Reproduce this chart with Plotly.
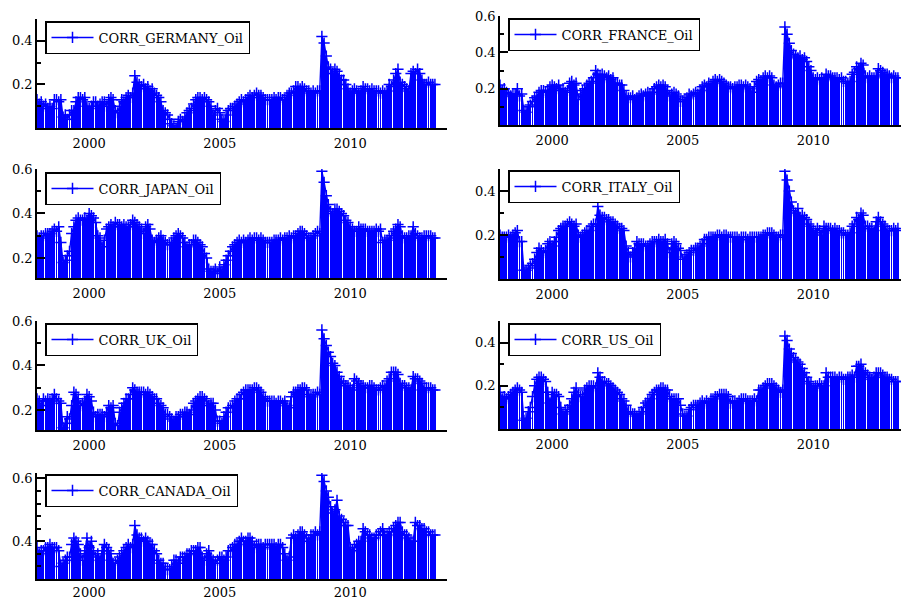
import pandas as pd
import plotly.graph_objects as go

# Monthly observations, Jan 1998 - Apr 2013
months = pd.date_range("1998-01-01", periods=184, freq="MS")

CORR_GERMANY_OIL = [
    0.13, 0.11, 0.12, 0.10, 0.11, 0.09, 0.10, 0.09, 0.13, 0.13, 0.12, 0.13,
    0.05, 0.06, 0.04, 0.06, 0.08, 0.08, 0.12, 0.14, 0.14, 0.13, 0.14, 0.10,
    0.09, 0.10, 0.12, 0.12, 0.10, 0.11, 0.12, 0.12, 0.10, 0.13, 0.14, 0.13,
    0.08, 0.07, 0.10, 0.13, 0.12, 0.14, 0.15, 0.14, 0.16, 0.24, 0.21, 0.20,
    0.19, 0.20, 0.18, 0.19, 0.17, 0.18, 0.16, 0.15, 0.14, 0.12, 0.08, 0.07,
    0.06, 0.04, 0.02, 0.01, 0.00, 0.03, 0.04, 0.03, 0.05, 0.07, 0.08, 0.09,
    0.11, 0.13, 0.14, 0.14, 0.13, 0.14, 0.13, 0.12, 0.10, 0.06, 0.08, 0.09,
    0.07, 0.04, 0.03, 0.06, 0.08, 0.09, 0.09, 0.10, 0.11, 0.12, 0.13, 0.12,
    0.13, 0.14, 0.15, 0.14, 0.15, 0.16, 0.15, 0.15, 0.14, 0.13, 0.13, 0.13,
    0.13, 0.14, 0.13, 0.14, 0.14, 0.13, 0.13, 0.15, 0.16, 0.16, 0.17, 0.19,
    0.19, 0.18, 0.19, 0.18, 0.17, 0.17, 0.16, 0.17, 0.16, 0.17, 0.17, 0.42,
    0.39, 0.33, 0.28, 0.27, 0.25, 0.27, 0.26, 0.24, 0.22, 0.22, 0.20, 0.18,
    0.16, 0.17, 0.18, 0.17, 0.16, 0.17, 0.19, 0.18, 0.18, 0.17, 0.18, 0.17,
    0.17, 0.17, 0.16, 0.17, 0.16, 0.17, 0.20, 0.19, 0.22, 0.25, 0.27, 0.21,
    0.20, 0.19, 0.18, 0.17, 0.25, 0.26, 0.25, 0.27, 0.25, 0.22, 0.20, 0.20,
    0.21, 0.20, 0.20, 0.20,
]

CORR_FRANCE_OIL = [
    0.22, 0.19, 0.20, 0.18, 0.17, 0.16, 0.17, 0.17, 0.20, 0.16, 0.17, 0.08,
    0.07, 0.10, 0.11, 0.13, 0.15, 0.16, 0.18, 0.19, 0.19, 0.18, 0.19, 0.21,
    0.22, 0.21, 0.20, 0.22, 0.19, 0.20, 0.18, 0.19, 0.23, 0.24, 0.22, 0.23,
    0.14, 0.17, 0.19, 0.20, 0.22, 0.23, 0.24, 0.26, 0.30, 0.28, 0.27, 0.28,
    0.27, 0.26, 0.27, 0.25, 0.26, 0.23, 0.23, 0.22, 0.22, 0.19, 0.16, 0.15,
    0.15, 0.16, 0.14, 0.15, 0.16, 0.17, 0.16, 0.17, 0.18, 0.17, 0.18, 0.20,
    0.21, 0.22, 0.21, 0.22, 0.21, 0.19, 0.16, 0.17, 0.18, 0.17, 0.16, 0.13,
    0.13, 0.14, 0.15, 0.17, 0.16, 0.17, 0.18, 0.17, 0.19, 0.21, 0.22, 0.21,
    0.23, 0.22, 0.24, 0.25, 0.24, 0.25, 0.24, 0.23, 0.22, 0.21, 0.21, 0.20,
    0.21, 0.21, 0.22, 0.22, 0.21, 0.22, 0.21, 0.20, 0.18, 0.21, 0.24, 0.25,
    0.24, 0.26, 0.27, 0.26, 0.27, 0.26, 0.22, 0.21, 0.22, 0.23, 0.23, 0.54,
    0.50, 0.45, 0.41, 0.39, 0.38, 0.37, 0.38, 0.36, 0.37, 0.35, 0.32, 0.30,
    0.26, 0.25, 0.26, 0.25, 0.26, 0.25, 0.28, 0.27, 0.27, 0.26, 0.26, 0.26,
    0.25, 0.26, 0.24, 0.24, 0.23, 0.24, 0.28, 0.29, 0.32, 0.31, 0.34, 0.33,
    0.27, 0.26, 0.27, 0.26, 0.26, 0.27, 0.31, 0.30, 0.29, 0.28, 0.28, 0.27,
    0.26, 0.27, 0.26, 0.26,
]

CORR_JAPAN_OIL = [
    0.30, 0.29, 0.30, 0.30, 0.31, 0.31, 0.31, 0.32, 0.33, 0.32, 0.34, 0.27,
    0.18, 0.19, 0.21, 0.23, 0.31, 0.34, 0.37, 0.38, 0.37, 0.37, 0.38, 0.37,
    0.40, 0.39, 0.38, 0.36, 0.30, 0.29, 0.25, 0.28, 0.33, 0.34, 0.35, 0.34,
    0.36, 0.35, 0.35, 0.34, 0.35, 0.34, 0.34, 0.35, 0.37, 0.36, 0.35, 0.34,
    0.33, 0.31, 0.34, 0.35, 0.33, 0.28, 0.27, 0.28, 0.29, 0.30, 0.28, 0.27,
    0.26, 0.26, 0.27, 0.29, 0.30, 0.31, 0.30, 0.29, 0.27, 0.25, 0.26, 0.26,
    0.28, 0.28, 0.27, 0.26, 0.25, 0.22, 0.20, 0.15, 0.14, 0.14, 0.15, 0.13,
    0.16, 0.14, 0.17, 0.19, 0.21, 0.23, 0.25, 0.26, 0.27, 0.28, 0.27, 0.28,
    0.27, 0.28, 0.29, 0.28, 0.29, 0.29, 0.28, 0.29, 0.28, 0.27, 0.27, 0.27,
    0.27, 0.28, 0.28, 0.28, 0.29, 0.28, 0.29, 0.29, 0.30, 0.29, 0.30, 0.30,
    0.31, 0.32, 0.32, 0.31, 0.30, 0.29, 0.29, 0.30, 0.31, 0.32, 0.31, 0.59,
    0.54, 0.48, 0.44, 0.41, 0.40, 0.42, 0.42, 0.41, 0.40, 0.39, 0.37, 0.36,
    0.34, 0.33, 0.32, 0.32, 0.34, 0.33, 0.33, 0.33, 0.32, 0.32, 0.32, 0.32,
    0.33, 0.32, 0.33, 0.27, 0.28, 0.28, 0.29, 0.30, 0.32, 0.33, 0.35, 0.34,
    0.30, 0.29, 0.29, 0.30, 0.30, 0.34, 0.31, 0.30, 0.29, 0.29, 0.30, 0.30,
    0.30, 0.30, 0.29, 0.29,
]

CORR_ITALY_OIL = [
    0.20, 0.19, 0.19, 0.19, 0.20, 0.19, 0.20, 0.21, 0.22, 0.17, 0.17, 0.04,
    0.04, 0.05, 0.06, 0.07, 0.09, 0.12, 0.14, 0.13, 0.12, 0.13, 0.16, 0.17,
    0.15, 0.17, 0.19, 0.22, 0.23, 0.24, 0.24, 0.25, 0.26, 0.25, 0.24, 0.25,
    0.20, 0.19, 0.20, 0.21, 0.22, 0.22, 0.24, 0.25, 0.25, 0.33, 0.29, 0.28,
    0.28, 0.27, 0.27, 0.26, 0.26, 0.25, 0.24, 0.23, 0.23, 0.22, 0.15, 0.12,
    0.10, 0.12, 0.14, 0.17, 0.16, 0.16, 0.16, 0.15, 0.15, 0.16, 0.17, 0.17,
    0.17, 0.18, 0.17, 0.17, 0.18, 0.16, 0.12, 0.16, 0.17, 0.16, 0.14, 0.13,
    0.09, 0.10, 0.11, 0.12, 0.13, 0.13, 0.14, 0.14, 0.15, 0.16, 0.18, 0.18,
    0.19, 0.19, 0.19, 0.19, 0.20, 0.20, 0.19, 0.20, 0.20, 0.19, 0.19, 0.19,
    0.19, 0.19, 0.18, 0.19, 0.19, 0.19, 0.18, 0.19, 0.19, 0.19, 0.19, 0.19,
    0.19, 0.20, 0.20, 0.21, 0.21, 0.21, 0.20, 0.19, 0.19, 0.20, 0.20, 0.49,
    0.45, 0.40, 0.35, 0.31, 0.30, 0.32, 0.28, 0.29, 0.28, 0.27, 0.25, 0.24,
    0.22, 0.21, 0.23, 0.22, 0.20, 0.24, 0.23, 0.23, 0.23, 0.22, 0.23, 0.22,
    0.22, 0.21, 0.21, 0.20, 0.20, 0.21, 0.24, 0.25, 0.28, 0.27, 0.30, 0.29,
    0.24, 0.24, 0.23, 0.23, 0.22, 0.26, 0.28, 0.26, 0.25, 0.24, 0.22, 0.22,
    0.22, 0.23, 0.22, 0.23,
]

CORR_UK_OIL = [
    0.25, 0.24, 0.22, 0.25, 0.24, 0.25, 0.24, 0.25, 0.27, 0.25, 0.24, 0.23,
    0.12, 0.14, 0.17, 0.16, 0.22, 0.28, 0.27, 0.25, 0.22, 0.23, 0.24, 0.27,
    0.26, 0.24, 0.19, 0.17, 0.18, 0.18, 0.18, 0.17, 0.19, 0.22, 0.21, 0.22,
    0.14, 0.13, 0.19, 0.21, 0.23, 0.25, 0.25, 0.27, 0.30, 0.29, 0.28, 0.28,
    0.28, 0.28, 0.27, 0.28, 0.27, 0.26, 0.25, 0.25, 0.23, 0.22, 0.21, 0.18,
    0.18, 0.17, 0.16, 0.15, 0.17, 0.17, 0.18, 0.18, 0.19, 0.19, 0.18, 0.20,
    0.23, 0.24, 0.25, 0.26, 0.26, 0.25, 0.24, 0.22, 0.23, 0.23, 0.20, 0.15,
    0.15, 0.14, 0.17, 0.19, 0.21, 0.21, 0.22, 0.24, 0.25, 0.25, 0.27, 0.28,
    0.29, 0.29, 0.29, 0.29, 0.30, 0.30, 0.29, 0.28, 0.26, 0.25, 0.24, 0.24,
    0.24, 0.24, 0.23, 0.24, 0.24, 0.23, 0.24, 0.22, 0.21, 0.26, 0.28, 0.28,
    0.29, 0.29, 0.30, 0.30, 0.29, 0.27, 0.26, 0.27, 0.27, 0.28, 0.27, 0.56,
    0.52, 0.49, 0.46, 0.44, 0.41, 0.40, 0.37, 0.35, 0.33, 0.32, 0.31, 0.31,
    0.30, 0.29, 0.34, 0.33, 0.32, 0.31, 0.31, 0.30, 0.30, 0.31, 0.31, 0.30,
    0.29, 0.29, 0.30, 0.31, 0.30, 0.33, 0.34, 0.37, 0.37, 0.37, 0.36, 0.32,
    0.31, 0.31, 0.30, 0.30, 0.29, 0.35, 0.34, 0.34, 0.33, 0.32, 0.30, 0.30,
    0.30, 0.30, 0.29, 0.29,
]

CORR_US_OIL = [
    0.17, 0.14, 0.15, 0.14, 0.15, 0.16, 0.17, 0.18, 0.19, 0.18, 0.17, 0.04,
    0.05, 0.08, 0.10, 0.15, 0.20, 0.23, 0.24, 0.24, 0.23, 0.22, 0.17, 0.12,
    0.17, 0.16, 0.16, 0.15, 0.10, 0.07, 0.08, 0.09, 0.11, 0.14, 0.17, 0.19,
    0.16, 0.15, 0.15, 0.18, 0.19, 0.20, 0.20, 0.20, 0.19, 0.26, 0.24, 0.22,
    0.22, 0.21, 0.21, 0.20, 0.19, 0.18, 0.17, 0.16, 0.14, 0.13, 0.11, 0.08,
    0.08, 0.07, 0.07, 0.06, 0.07, 0.08, 0.10, 0.12, 0.13, 0.14, 0.16, 0.17,
    0.18, 0.18, 0.19, 0.19, 0.18, 0.18, 0.15, 0.14, 0.14, 0.14, 0.14, 0.11,
    0.07, 0.06, 0.06, 0.09, 0.10, 0.11, 0.11, 0.11, 0.12, 0.13, 0.12, 0.13,
    0.12, 0.14, 0.14, 0.15, 0.15, 0.16, 0.16, 0.16, 0.16, 0.15, 0.12, 0.13,
    0.13, 0.12, 0.13, 0.14, 0.14, 0.14, 0.13, 0.13, 0.13, 0.14, 0.13, 0.18,
    0.18, 0.19, 0.20, 0.21, 0.21, 0.21, 0.20, 0.19, 0.18, 0.17, 0.18, 0.43,
    0.41, 0.37, 0.35, 0.33, 0.32, 0.31, 0.30, 0.28, 0.26, 0.24, 0.22, 0.21,
    0.19, 0.20, 0.20, 0.21, 0.20, 0.20, 0.26, 0.24, 0.24, 0.24, 0.24, 0.23,
    0.24, 0.24, 0.23, 0.23, 0.24, 0.24, 0.25, 0.24, 0.29, 0.29, 0.30, 0.27,
    0.26, 0.25, 0.24, 0.23, 0.24, 0.26, 0.26, 0.26, 0.25, 0.24, 0.24, 0.23,
    0.23, 0.22, 0.22, 0.22,
]

CORR_CANADA_OIL = [
    0.38, 0.36, 0.37, 0.37, 0.38, 0.38, 0.39, 0.38, 0.38, 0.38, 0.37, 0.32,
    0.33, 0.34, 0.35, 0.35, 0.39, 0.41, 0.40, 0.39, 0.36, 0.34, 0.37, 0.41,
    0.38, 0.40, 0.37, 0.35, 0.36, 0.34, 0.37, 0.39, 0.38, 0.37, 0.36, 0.33,
    0.33, 0.34, 0.35, 0.36, 0.37, 0.38, 0.39, 0.38, 0.39, 0.45, 0.42, 0.41,
    0.41, 0.40, 0.41, 0.40, 0.39, 0.39, 0.37, 0.36, 0.34, 0.33, 0.33, 0.31,
    0.31, 0.31, 0.32, 0.34, 0.34, 0.33, 0.35, 0.35, 0.35, 0.36, 0.36, 0.37,
    0.37, 0.37, 0.38, 0.38, 0.35, 0.34, 0.36, 0.37, 0.35, 0.34, 0.33, 0.34,
    0.35, 0.35, 0.34, 0.35, 0.37, 0.37, 0.38, 0.39, 0.39, 0.40, 0.41, 0.40,
    0.40, 0.41, 0.41, 0.40, 0.38, 0.39, 0.39, 0.39, 0.38, 0.39, 0.39, 0.39,
    0.39, 0.39, 0.38, 0.39, 0.39, 0.38, 0.36, 0.34, 0.35, 0.41, 0.42, 0.41,
    0.42, 0.43, 0.43, 0.42, 0.41, 0.40, 0.42, 0.42, 0.43, 0.42, 0.43, 0.61,
    0.59, 0.56, 0.54, 0.51, 0.49, 0.50, 0.53, 0.48, 0.47, 0.46, 0.45, 0.45,
    0.38, 0.37, 0.38, 0.39, 0.40, 0.40, 0.44, 0.43, 0.42, 0.42, 0.41, 0.41,
    0.42, 0.42, 0.43, 0.44, 0.42, 0.42, 0.43, 0.43, 0.44, 0.45, 0.46, 0.46,
    0.43, 0.42, 0.42, 0.41, 0.40, 0.40, 0.46, 0.45, 0.45, 0.44, 0.44, 0.43,
    0.43, 0.42, 0.42, 0.42,
]

YEAR_TICKS = ["2000-01-01", "2005-01-01", "2010-01-01"]
YEAR_LABELS = ["2000", "2005", "2010"]

W, H = 901, 600
BLUE = "#0000ff"
FONT = "DejaVu Serif"

# pixel geometry of the grid
LEFT_X = (37, 447)
RIGHT_X = (500, 901)
PX_PER_MONTH = 398 / 183
START = pd.Timestamp("1998-01-01")
MONTH_MS = 30.4375 * 86400000


def date_at(px_from_start):
    return START + pd.Timedelta(milliseconds=px_from_start / PX_PER_MONTH * MONTH_MS)


panels = [
    # name, values, x px span, (top, bottom) px, y range, major ticks, minor ticks, legend (left, top)
    ("CORR_GERMANY_Oil", CORR_GERMANY_OIL, LEFT_X, (19, 128), [0.0, 0.5], [0.2, 0.4], [0.1, 0.3, 0.5], (45, 21)),
    ("CORR_FRANCE_Oil", CORR_FRANCE_OIL, RIGHT_X, (16, 125), [0.0, 0.6], [0.2, 0.4, 0.6], [0.1, 0.3, 0.5], (508, 18)),
    ("CORR_JAPAN_Oil", CORR_JAPAN_OIL, LEFT_X, (169, 278), [0.11, 0.6], [0.2, 0.4, 0.6], [0.3, 0.5], (45, 172)),
    ("CORR_ITALY_Oil", CORR_ITALY_OIL, RIGHT_X, (169, 279), [0.0, 0.5], [0.2, 0.4], [0.1, 0.3, 0.5], (508, 170)),
    ("CORR_UK_Oil", CORR_UK_OIL, LEFT_X, (321, 430), [0.11, 0.6], [0.2, 0.4, 0.6], [0.3, 0.5], (45, 323)),
    ("CORR_US_Oil", CORR_US_OIL, RIGHT_X, (321, 429), [0.0, 0.5], [0.2, 0.4], [0.1, 0.3, 0.5], (508, 323)),
    ("CORR_CANADA_Oil", CORR_CANADA_OIL, LEFT_X, (473, 579), [0.28, 0.617], [0.4, 0.6],
     [0.32, 0.36, 0.44, 0.48, 0.52, 0.56], (45, 474)),
]

fig = go.Figure()
layout = dict(
    width=W, height=H,
    margin=dict(l=0, r=0, t=0, b=0, autoexpand=False),
    paper_bgcolor="white", plot_bgcolor="white",
    showlegend=True,
    barmode="overlay",
)

for i, (name, vals, xs, (top, bot), yr, majors, minors, (lx, ly)) in enumerate(panels):
    k = "" if i == 0 else str(i + 1)
    xref, yref = "x" + k, "y" + k
    legend_id = "legend" + k

    # vertical spikes from the axis floor up to each observation
    fig.add_trace(go.Bar(
        x=months, y=vals, base=0, width=0.44 * MONTH_MS,
        marker=dict(color=BLUE, line=dict(width=0)),
        xaxis=xref, yaxis=yref, showlegend=False, hoverinfo="skip",
    ))
    fig.add_trace(go.Scatter(
        x=months, y=vals, mode="lines+markers", name=name,
        line=dict(color=BLUE, width=1.4),
        marker=dict(symbol="cross-thin", size=8, color=BLUE,
                    line=dict(color=BLUE, width=1.5)),
        xaxis=xref, yaxis=yref, legend=legend_id,
    ))

    x_end = date_at(xs[1] - xs[0])
    layout["xaxis" + k] = dict(
        domain=[xs[0] / W, xs[1] / W], anchor=yref, automargin=False,
        type="date", range=[START, x_end],
        tickmode="array", tickvals=YEAR_TICKS, ticktext=YEAR_LABELS,
        ticks="", showgrid=False, zeroline=False,
        showline=True, linecolor="black", linewidth=1.5,
        tickfont=dict(family=FONT, size=13, color="black"),
        ticklabelstandoff=1 if bot > 500 else 3,
    )
    layout["yaxis" + k] = dict(
        domain=[1 - bot / H, 1 - top / H], anchor=xref, automargin=False,
        range=yr, tickmode="array", tickvals=majors,
        ticktext=[f"{v:.1f}" for v in majors],
        ticks="inside", ticklen=8, tickwidth=1.5, tickcolor="black",
        minor=dict(tickmode="array", tickvals=minors, ticks="inside",
                   ticklen=4, tickwidth=1.5, tickcolor="black", showgrid=False),
        showgrid=False, zeroline=False,
        showline=True, linecolor="black", linewidth=1.5,
        tickfont=dict(family=FONT, size=13, color="black"),
    )
    layout[legend_id] = dict(
        x=lx / W, y=1 - ly / H, xanchor="left", yanchor="top",
        bgcolor="white", bordercolor="black", borderwidth=1.5,
        font=dict(family=FONT, size=13, color="black"),
        itemwidth=42, tracegroupgap=0,
    )

fig.update_layout(**layout)
fig.write_html("out.html")
